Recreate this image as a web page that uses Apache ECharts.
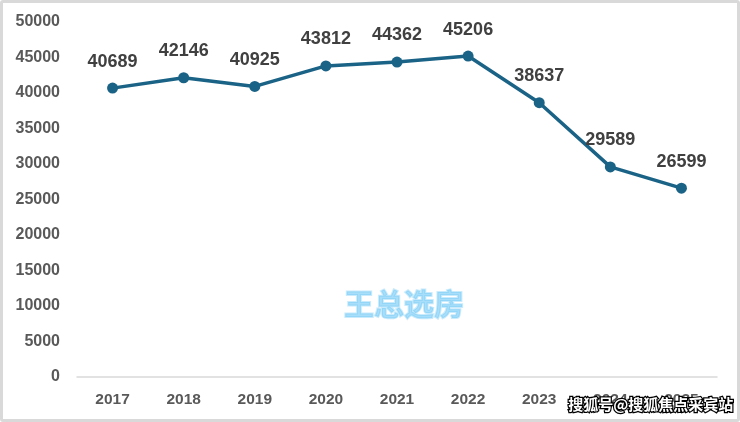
<!DOCTYPE html>
<html><head><meta charset="utf-8">
<script src="https://cdn.jsdelivr.net/npm/echarts@6/dist/echarts.min.js"></script>
<style>
html,body{margin:0;padding:0;background:#fff;}
#c{width:740px;height:422px;position:relative;}
#f{position:absolute;left:0;top:0;width:740px;height:422px;box-sizing:border-box;border:3px solid #d9d9d9;border-radius:3px;pointer-events:none;}
</style></head>
<body>
<div style="position:relative;width:740px;height:422px;">
<div id="c"></div><div id="f"></div>
</div>
<script>
const categories = ['2017','2018','2019','2020','2021','2022','2023','2024','2025'];
const values = [40689, 42146, 40925, 43812, 44362, 45206, 38637, 29589, 26599];
const yMin = 0, yMax = 50000, yStep = 5000;
const chart = echarts.init(document.getElementById('c'));
const ff = 'Liberation Sans, Arial, sans-serif';
chart.setOption({
  animation:false,
  grid:{left:77,right:23,top:22,bottom:45},
  xAxis:{type:'category',data:categories,boundaryGap:true,
    axisLine:{lineStyle:{color:'#d9d9d9',width:1.5}},axisTick:{show:false},
    axisLabel:{color:'#595959',fontWeight:'bold',fontSize:15.5,fontFamily:ff,margin:15}},
  yAxis:{type:'value',min:yMin,max:yMax,interval:yStep,
    axisLine:{show:false},axisTick:{show:false},splitLine:{show:false},
    axisLabel:{color:'#595959',fontWeight:'bold',fontSize:16,fontFamily:ff,margin:17,formatter:v=>String(v)}},
  series:[{type:'line',data:values,symbol:'circle',symbolSize:11,
    lineStyle:{color:'#1a6386',width:3.5},itemStyle:{color:'#1a6386'},
    label:{show:true,position:'top',distance:12,color:'#404040',fontWeight:'bold',fontSize:18,fontFamily:ff}}],
  graphic:[
    {type:'text',left:343,top:288,z:100,style:{text:'王总选房',fill:'rgba(110,200,245,0.6)',stroke:'rgba(150,215,250,0.5)',lineWidth:2,font:'bold 30px "Noto Sans CJK SC"'}},
    {type:'text',left:567,top:396,z:100,style:{text:'搜狐号@搜狐焦点采宾站',fill:'#fff',stroke:'#000',lineWidth:2.5,font:'bold 15px "Noto Sans CJK SC"'}}
  ]
});
</script>
</body></html>
